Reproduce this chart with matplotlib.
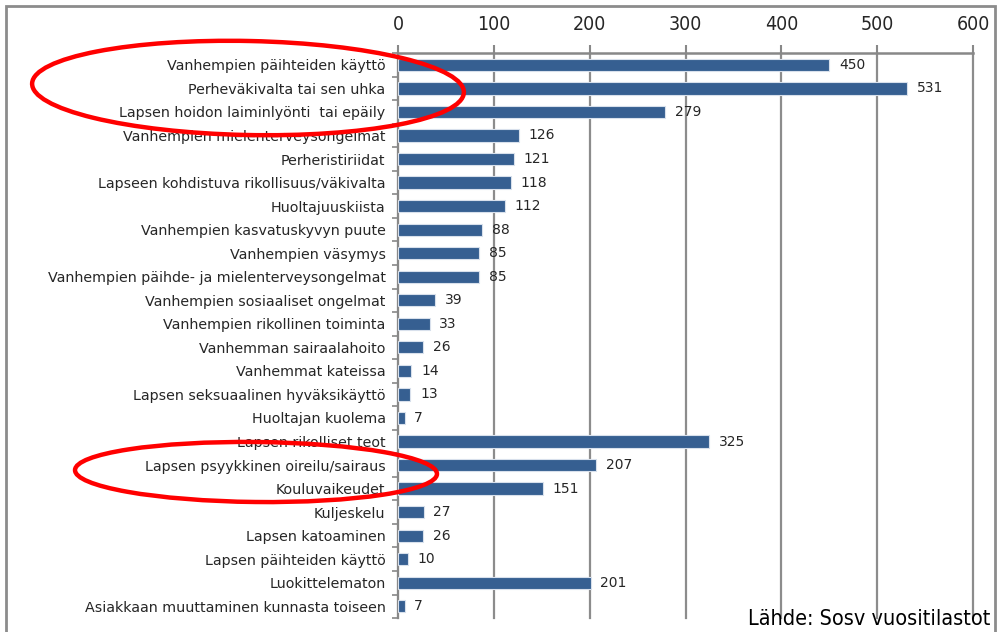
import matplotlib.pyplot as plt
import numpy as np
from matplotlib.patches import Ellipse, Rectangle
from matplotlib import font_manager

categories = [
    'Vanhempien päihteiden käyttö',
    'Perheväkivalta tai sen uhka',
    'Lapsen hoidon laiminlyönti  tai epäily',
    'Vanhempien mielenterveysongelmat',
    'Perheristiriidat',
    'Lapseen kohdistuva rikollisuus/väkivalta',
    'Huoltajuuskiista',
    'Vanhempien kasvatuskyvyn puute',
    'Vanhempien väsymys',
    'Vanhempien päihde- ja mielenterveysongelmat',
    'Vanhempien sosiaaliset ongelmat',
    'Vanhempien rikollinen toiminta',
    'Vanhemman sairaalahoito',
    'Vanhemmat kateissa',
    'Lapsen seksuaalinen hyväksikäyttö',
    'Huoltajan kuolema',
    'Lapsen rikolliset teot',
    'Lapsen psyykkinen oireilu/sairaus',
    'Kouluvaikeudet',
    'Kuljeskelu',
    'Lapsen katoaminen',
    'Lapsen päihteiden käyttö',
    'Luokittelematon',
    'Asiakkaan muuttaminen kunnasta toiseen',
]
values = [450, 531, 279, 126, 121, 118, 112, 88, 85, 85, 39, 33, 26, 14, 13, 7,
          325, 207, 151, 27, 26, 10, 201, 7]
xticks = [0, 100, 200, 300, 400, 500, 600]

# kapea fontti akselin numeroille, jos löytyy
names = {f.name for f in font_manager.fontManager.ttflist}
narrow = [n for n in ['Liberation Sans Narrow', 'DejaVu Sans Condensed'] if n in names]
narrow_family = narrow + ['DejaVu Sans']

fig = plt.figure(figsize=(9.99, 6.32), dpi=100)
ax = fig.add_axes([0.3984, 0.022, 0.5756, 0.894])

y = np.arange(len(categories))
ax.barh(y, values, height=0.52, color='#365f91', edgecolor='#d8e0ec', linewidth=0.8, zorder=3)
ax.set_ylim(len(categories) - 0.5, -0.5)
ax.set_xlim(0, 600)

for yi, v in zip(y, values):
    ax.text(v + 10, yi, str(v), va='center', ha='left', fontsize=10,
            color='#262626', zorder=4)

# kategoriat vasemmalle, väliviivat luokkien rajoille
ax.set_yticks(y)
ax.set_yticklabels(categories, fontsize=10.3, color='#262626')
ax.set_yticks(np.arange(len(categories) + 1) - 0.5, minor=True)
ax.tick_params(axis='y', which='major', length=0, pad=9)
ax.tick_params(axis='y', which='minor', length=4, color='#888888', width=1.2)

ax.xaxis.tick_top()
ax.set_xticks(xticks)
ax.set_xticklabels([str(t) for t in xticks], family=narrow_family, stretch='condensed',
                   fontsize=14, color='#262626')
ax.tick_params(axis='x', length=6, color='#888888', width=1.5, pad=8)

ax.grid(axis='x', color='#8c8c8c', linewidth=1.6, zorder=0)
for line in ax.get_xgridlines():
    line.set_clip_on(False)
for s in ['right', 'bottom']:
    ax.spines[s].set_visible(False)
ax.spines['left'].set_color('#888888')
ax.spines['left'].set_linewidth(1.5)
ax.spines['top'].set_color('#888888')
ax.spines['top'].set_linewidth(1.8)

# kehys kuvan ympärillä
fig.patches.append(Rectangle((0.006, -0.01), 0.99, 1.0, transform=fig.transFigure,
                             fill=False, edgecolor='#8c8c8c', linewidth=2))

# korostukset
W, H = 999, 632
fig.patches.append(Ellipse((248 / W, 1 - 88 / H), 432 / W, 94 / H, angle=-2,
                           transform=fig.transFigure, fill=False,
                           edgecolor='red', linewidth=3.2, zorder=10))
fig.patches.append(Ellipse((256 / W, 1 - 472 / H), 362 / W, 60 / H, angle=-1,
                           transform=fig.transFigure, fill=False,
                           edgecolor='red', linewidth=3.2, zorder=10))

fig.text(0.991, 0.004, 'Lähde: Sosv vuositilastot', ha='right', va='bottom',
         family=narrow_family, stretch='condensed', fontsize=15.5, color='black')

fig.savefig('out.png', dpi=100)
